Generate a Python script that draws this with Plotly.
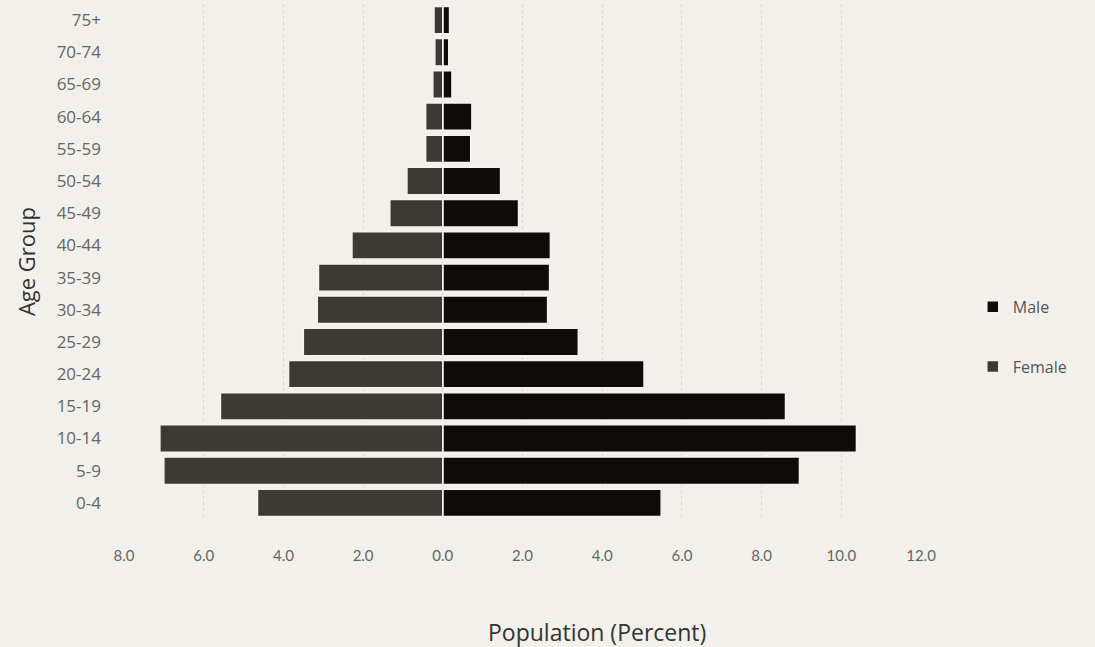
import plotly.graph_objects as go

age_groups = ["0-4", "5-9", "10-14", "15-19", "20-24", "25-29", "30-34", "35-39",
              "40-44", "45-49", "50-54", "55-59", "60-64", "65-69", "70-74", "75+"]
male = [5.48, 8.95, 10.38, 8.6, 5.05, 3.4, 2.63, 2.68, 2.7, 1.9, 1.45, 0.7, 0.73, 0.23, 0.15, 0.17]
female = [4.65, 7.0, 7.1, 5.58, 3.87, 3.5, 3.15, 3.12, 2.28, 1.33, 0.9, 0.43, 0.43, 0.25, 0.2, 0.22]
tick_vals = [-8, -6, -4, -2, 0, 2, 4, 6, 8, 10, 12]
tick_text = ["8.0", "6.0", "4.0", "2.0", "0.0", "2.0", "4.0", "6.0", "8.0", "10.0", "12.0"]

bg = "#f2f0ea"
fig = go.Figure()
fig.add_trace(go.Bar(
    y=age_groups, x=male, orientation="h", name="Male", legendgroup="m",
    marker=dict(color="#0e0c0b", line=dict(color="#f5f3ee", width=1.5)),
))
fig.add_trace(go.Bar(
    y=age_groups, x=[-v for v in female], orientation="h", name="Female", legendgroup="f",
    marker=dict(color="#3d3935", line=dict(color="#f5f3ee", width=1.5)),
))

fig.update_layout(
    width=1095, height=647,
    paper_bgcolor=bg, plot_bgcolor=bg,
    barmode="overlay", bargap=0.15,
    margin=dict(l=124, r=174, t=4, b=128),
    font=dict(family="Open Sans, sans-serif", color="#555"),
    legend=dict(x=1.065, y=0.445, xanchor="left", yanchor="top",
                tracegroupgap=36, traceorder="grouped",
                font=dict(size=16, color="#555"), bgcolor="rgba(0,0,0,0)"),
    xaxis=dict(
        range=[-8, 12], tickvals=tick_vals, ticktext=tick_text,
        showgrid=True, gridcolor="#dad7d1", griddash="dot", gridwidth=1,
        zeroline=False, showline=False, ticks="",
        ticklabelstandoff=26,
        tickfont=dict(family="Lato, sans-serif", size=15, color="#666"),
    ),
    yaxis=dict(
        categoryorder="array", categoryarray=age_groups,
        showgrid=False, zeroline=False, showline=False, ticks="",
        ticklabelstandoff=22,
        tickfont=dict(size=17, color="#666"),
        title=dict(text="Age Group", font=dict(size=22, color="#333"), standoff=14),
    ),
    annotations=[dict(
        text="Population (Percent)", xref="paper", yref="paper",
        x=0.593, y=-0.219, xanchor="center", yanchor="middle", showarrow=False,
        font=dict(size=23, color="#333"),
    )],
)

fig.write_html("out.html", config={"displayModeBar": False},
               post_script="document.body.style.margin='0';document.body.style.padding='0';")
